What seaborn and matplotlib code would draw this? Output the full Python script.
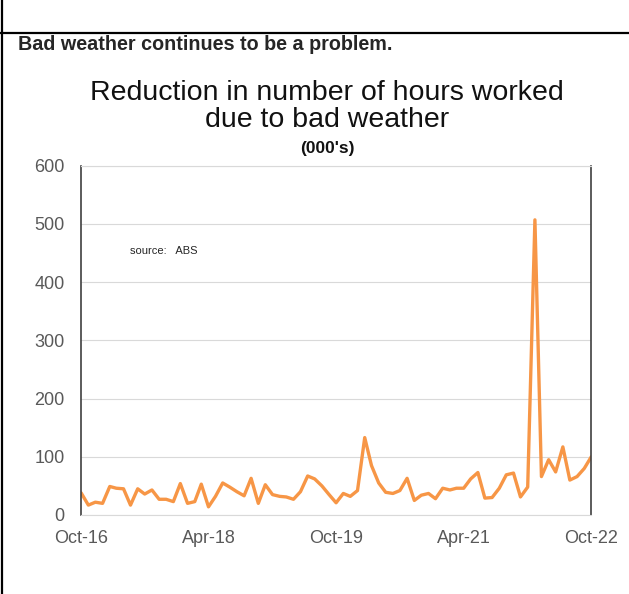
import pandas as pd
import numpy as np
import matplotlib
matplotlib.use('Agg')
import matplotlib.pyplot as plt
from matplotlib.lines import Line2D
import seaborn as sns

# %% Datos (miles de horas, mensual Oct-16 a Oct-22)
start_month = '2016-10-01'
hours_lost = [38, 17, 22, 20, 49, 46, 45, 17, 45, 36, 43, 27, 27, 23, 54, 20,
              23, 53, 14, 32, 55, 48, 40, 33, 63, 20, 52, 35, 32, 31, 27, 40,
              67, 62, 50, 35, 21, 37, 32, 42, 133, 85, 55, 39, 37, 42, 63, 25,
              34, 37, 28, 46, 43, 46, 46, 62, 73, 29, 30, 46, 69, 72, 31, 48,
              507, 66, 95, 74, 117, 60, 66, 80, 100]
tick_labels = ['Oct-16', 'Apr-18', 'Oct-19', 'Apr-21', 'Oct-22']
tick_months = ['2016-10-01', '2018-04-01', '2019-10-01', '2021-04-01', '2022-10-01']
y_ticks = [0, 100, 200, 300, 400, 500, 600]

df = pd.DataFrame({
    'month': pd.date_range(start_month, periods=len(hours_lost), freq='MS'),
    'hours': hours_lost,
})

# %% Grafico
sns.set_theme(style='white')
plt.rcParams['font.family'] = ['Liberation Sans', 'DejaVu Sans']

fig = plt.figure(figsize=(6.29, 5.94), dpi=100)
ax = fig.add_axes([0.129, 0.133, 0.811, 0.588])

sns.lineplot(data=df, x='month', y='hours', ax=ax, color='#F79646', linewidth=2.4)

ax.set_ylim(0, 600)
ax.set_yticks(y_ticks)
ax.set_xlim(df['month'].iloc[0], df['month'].iloc[-1])
ax.set_xticks(pd.to_datetime(tick_months))
ax.set_xticklabels(tick_labels)
ax.set_xlabel('')
ax.set_ylabel('')
ax.tick_params(axis='both', colors='#595959', labelsize=13, length=0)
ax.tick_params(axis='x', pad=11)
ax.tick_params(axis='y', pad=12)
ax.grid(axis='y', color='#d9d9d9', linewidth=0.8)

for side in ['left', 'right']:
    ax.spines[side].set_color('#404040')
    ax.spines[side].set_linewidth(1.2)
for side in ['top', 'bottom']:
    ax.spines[side].set_color('#d9d9d9')
    ax.spines[side].set_linewidth(0.8)

ax.text(0.095, 0.756, 'source:   ABS', transform=ax.transAxes, fontsize=8,
        color='#262626', va='center')

# Titulos
fig.text(18 / 629, 1 - 44 / 594, 'Bad weather continues to be a problem.',
         fontsize=14.2, fontweight='bold', va='center', ha='left')
fig.text(327 / 629, 1 - 93 / 594, 'Reduction in number of hours worked',
         fontsize=20.5, va='center', ha='center', color='#111111')
fig.text(327 / 629, 1 - 120 / 594, 'due to bad weather',
         fontsize=20.5, va='center', ha='center', color='#111111')
fig.text(327 / 629, 1 - 148 / 594, "(000's)",
         fontsize=12.5, fontweight='bold', va='center', ha='center', color='#111111')

# Bordes
fig.add_artist(Line2D([0, 1], [1 - 33 / 594, 1 - 33 / 594], color='black', linewidth=1.6,
                      transform=fig.transFigure))
fig.add_artist(Line2D([2 / 629, 2 / 629], [0, 1], color='black', linewidth=1.6,
                      transform=fig.transFigure))

fig.savefig('out.png', dpi=100)
